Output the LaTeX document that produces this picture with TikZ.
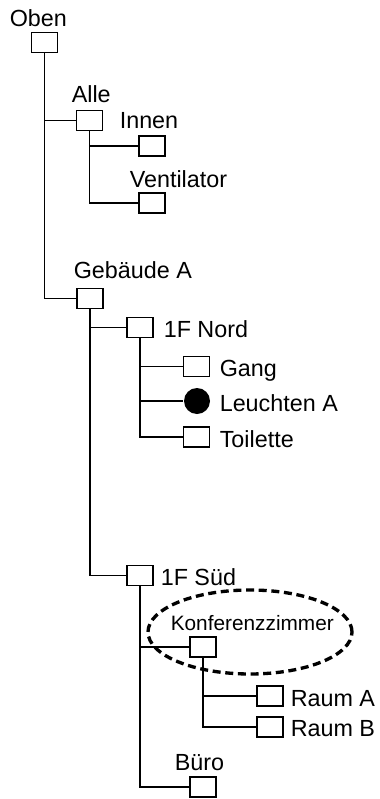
\documentclass[tikz,border=0pt]{standalone}
\usepackage{fontspec}
\setmainfont{Liberation Sans}
\usepackage{xcolor}

\begin{document}
\begin{tikzpicture}[x=0.75pt,y=-0.75pt,line width=1.2pt,
    room/.style={draw, minimum width=19.5pt, minimum height=15pt, inner sep=0pt},
    lamp/.style={circle, fill=black, minimum size=19.5pt, inner sep=0pt},
    lbl/.style={anchor=base west, inner sep=0pt, font=\fontsize{17.5}{21}\selectfont}]
    \useasboundingbox (0,0) rectangle (379,799);

    % Draw the boxes
    \node[room] (oben) at (44.5,42.5) {};
    \node[room] (alle) at (89.5,120.5) {};
    \node[room] (innen) at (152,146) {};
    \node[room] (vent) at (152,203) {};
    \node[room] (gebA) at (90,298.5) {};
    \node[room] (nord) at (140,327.5) {};
    \node[room] (gang) at (196.5,366.5) {};
    \node[lamp] (leuchten) at (197,401) {};
    \node[room] (toil) at (196.5,437) {};
    \node[room] (sued) at (140,575.5) {};
    \node[room] (konf) at (203,647) {};
    \node[room] (raumA) at (270,696) {};
    \node[room] (raumB) at (270,727) {};
    \node[room] (buero) at (203,787) {};

    % Draw the tree lines
    \draw (oben.south) |- (alle.west);
    \draw (oben.south) |- (gebA.west);
    \draw (alle.south) |- (innen.west);
    \draw (alle.south) |- (vent.west);
    \draw (gebA.south) |- (nord.west);
    \draw (gebA.south) |- (sued.west);
    \draw (nord.south) |- (gang.west);
    \draw (nord.south) |- (leuchten.west);
    \draw (nord.south) |- (toil.west);
    \draw (sued.south) |- (konf.west);
    \draw (sued.south) |- (buero.west);
    \draw (konf.south) |- (raumA.west);
    \draw (konf.south) |- (raumB.west);

    % Dashed ring round the meeting room
    \draw[line width=2.5pt, dash pattern=on 6pt off 3.5pt] (250,632) ellipse [x radius=76.5pt, y radius=31.5pt];

    % Add the text
    \node[lbl] (tOben) at (9,27) {Oben};
    \node[lbl] (tAlle) at (71,103) {Alle};
    \node[lbl] (tInnen) at (119,128) {Innen};
    \node[lbl] (tVent) at (129,187) {Ventilator};
    \node[lbl] (tGebA) at (73,278) {Gebäude A};
    \node[lbl] (tNord) at (163,337) {1F Nord};
    \node[lbl] (tGang) at (219,376) {Gang};
    \node[lbl] (tLeuchten) at (219,411) {Leuchten A};
    \node[lbl] (tToil) at (219,447) {Toilette};
    \node[lbl] (tSued) at (160,585) {1F Süd};
    \node[lbl, font=\fontsize{15.6}{19}\selectfont] (tKonf) at (170,630) {Konferenzzimmer};
    \node[lbl] (tRaumA) at (290,706) {Raum A};
    \node[lbl] (tRaumB) at (290,736) {Raum B};
    \node[lbl] (tBuero) at (174,770) {Büro};
\end{tikzpicture}
\end{document}
